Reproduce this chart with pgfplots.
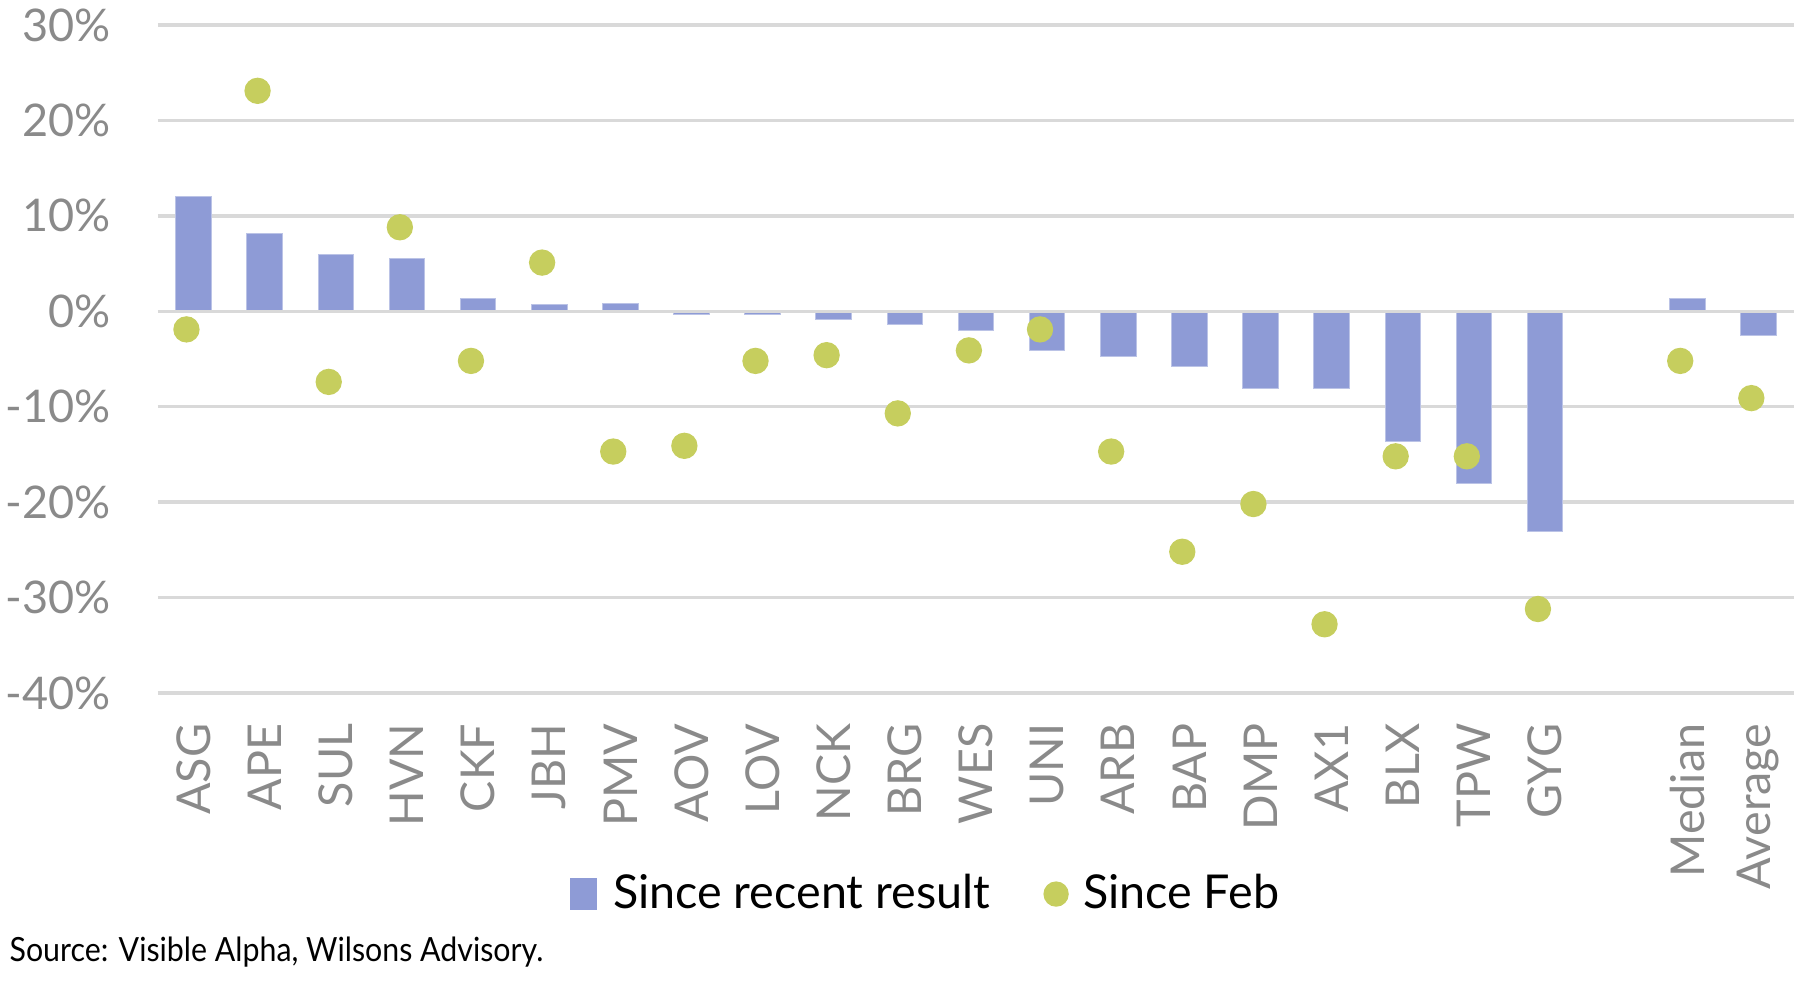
\documentclass[border=0pt]{standalone}
\usepackage{pgfplots}
\pgfplotsset{compat=1.18}
\usepackage{pgfplotstable}
\usepackage{fontspec}
\setmainfont{Lato}
\newfontfamily\srcfont{Lato}[FakeStretch=0.91]

\definecolor{barcol}{HTML}{8E9BD6}
\definecolor{dotcol}{HTML}{C6CE5E}
\definecolor{gridcol}{HTML}{D9D9D9}
\definecolor{tickcol}{HTML}{8A8A8A}

% pos 20 is left empty (gap before Median / Average)
\pgfplotstableread{
pos name   recent feb
0   ASG    12.0   -1.9
1   APE     8.1   23.1
2   SUL     6.0   -7.4
3   HVN     5.5    8.8
4   CKF     1.3   -5.2
5   JBH     0.75   5.1
6   PMV     0.8  -14.7
7   AOV    -0.3  -14.1
8   LOV    -0.3   -5.2
9   NCK    -0.9   -4.6
10  BRG    -1.4  -10.7
11  WES    -2.0   -4.1
12  UNI    -4.1   -1.9
13  ARB    -4.7  -14.7
14  BAP    -5.8  -25.2
15  DMP    -8.1  -20.2
16  AX1    -8.1  -32.8
17  BLX   -13.6  -15.2
18  TPW   -18.0  -15.2
19  GYG   -23.1  -31.2
21  Median  1.3   -5.2
22  Average -2.5  -9.1
}\data

\begin{document}
\begin{tikzpicture}
\path[use as bounding box] (-47.4pt,-93.3pt) rectangle (492.6pt,207.9pt);
\begin{axis}[
    at={(0pt,0pt)}, anchor=south west,
    scale only axis,
    width=490.8pt, height=200.4pt,
    xmin=-0.5, xmax=22.5,
    ymin=-40, ymax=30,
    axis line style={draw=none},
    major tick length=0pt,
    ytick={-40,-30,...,30},
    yticklabels={-40\%,-30\%,-20\%,-10\%,0\%,10\%,20\%,30\%},
    ymajorgrids,
    grid style={gridcol, line width=1pt},
    xtick={0,1,...,19,21,22},
    xticklabels={ASG,APE,SUL,HVN,CKF,JBH,PMV,AOV,LOV,NCK,BRG,WES,UNI,ARB,BAP,DMP,AX1,BLX,TPW,GYG,Median,Average},
    x tick label style={rotate=90, anchor=east, inner xsep=9pt,
        font=\fontsize{14}{16}\selectfont, text=tickcol},
    y tick label style={anchor=east, inner xsep=14pt,
        font=\fontsize{13.5}{16}\selectfont, text=tickcol},
    legend columns=2,
    legend style={at={(0.4707,-0.301)}, anchor=center, draw=none, fill=none,
        font=\fontsize{14}{16}\selectfont,
        /tikz/every even column/.append style={column sep=14pt}},
]
    \addplot[ybar, bar width=0.5, fill=barcol, draw=barcol!60!white, line width=0.3pt,
        legend image code/.code={\fill[barcol] (0pt,-4.6pt) rectangle (7.8pt,4.6pt);
            \path (10.5pt,0pt);}]
        table[x=pos, y=recent] {\data};
    \addlegendentry{Since recent result}

    \draw[gridcol, line width=1pt] (axis cs:-0.5,0) -- (axis cs:22.5,0);

    \addplot[dotcol, only marks, mark=*, mark size=3.75pt,
        mark options={draw=none, fill=dotcol},
        legend image code/.code={\fill[dotcol] (3.6pt,0pt) circle (3.6pt);
            \path (9.5pt,0pt);}]
        table[x expr=\thisrow{pos}-0.1, y=feb] {\data};
    \addlegendentry{Since Feb}
\end{axis}
\node[anchor=west, inner sep=0pt, font=\srcfont\fontsize{10}{12}\selectfont]
    at (-44.7pt,-77.7pt) {Source: Visible Alpha, Wilsons Advisory.};
\end{tikzpicture}
\end{document}
